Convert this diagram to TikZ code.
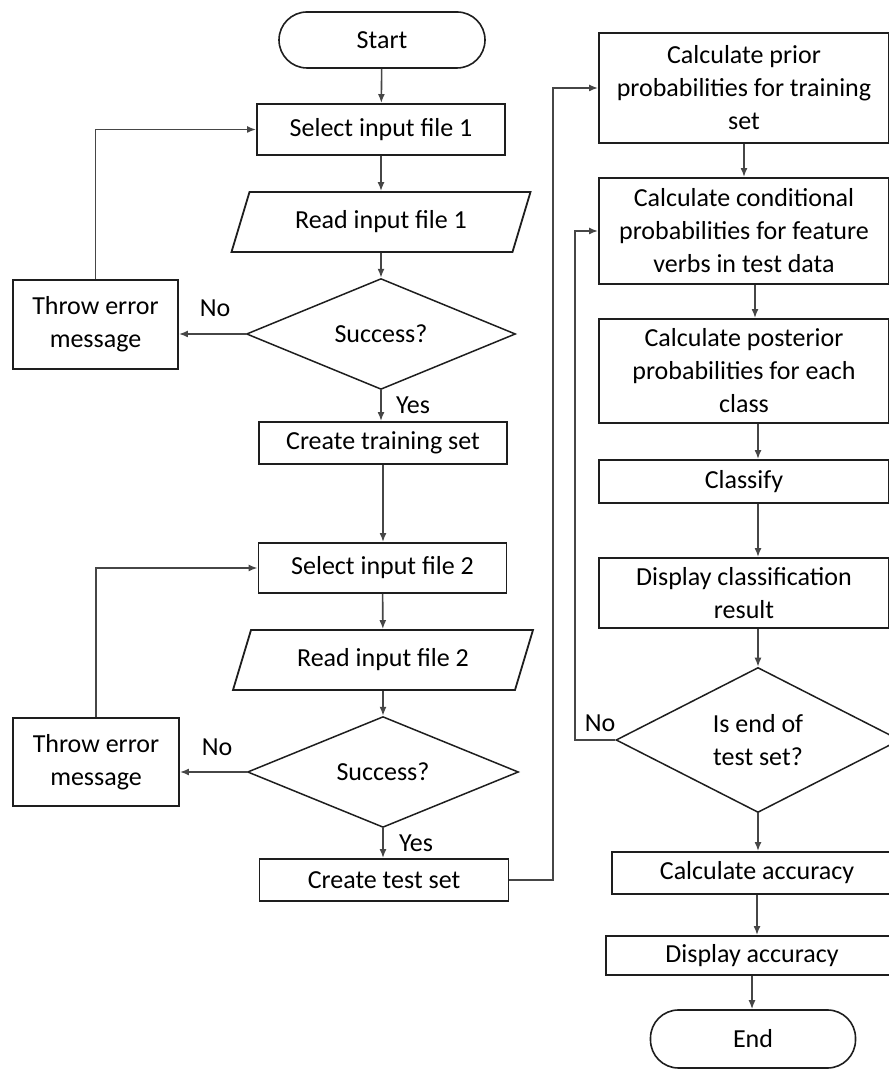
\documentclass[tikz,border=0pt]{standalone}
\usepackage{fontspec}
\setmainfont{Carlito}
\usetikzlibrary{arrows.meta,shapes.geometric}
\definecolor{fc_line}{RGB}{30,30,30}
\definecolor{fc_link}{RGB}{70,70,70}
\tikzstyle{proc}=[rectangle,draw=fc_line,line width=1.9pt,inner sep=3pt,align=center]
\tikzstyle{term}=[rectangle,rounded corners=28pt,draw=fc_line,line width=1.6pt,
  inner sep=3pt]
\tikzstyle{io}=[trapezium,trapezium left angle=51,trapezium right angle=129,
  trapezium stretches body,draw=fc_line,line width=1.8pt,inner sep=0pt]
\tikzstyle{dec}=[diamond,draw=fc_line,line width=1.5pt,inner sep=0pt,align=center]
\tikzstyle{arr}=[draw=fc_link,line width=1.6pt,-{Latex[length=9pt,width=7pt]}]
\tikzstyle{none}=[inner sep=0pt]

\begin{document}
\begin{tikzpicture}[x=1pt,y=1pt,font=\fontsize{26}{33}\selectfont]
            \useasboundingbox (0,0) rectangle (888,1075);
            % left column
            \node [style=term, minimum width=206pt, minimum height=56pt] (start) at (382, 1035) {Start};
            \node [style=proc, minimum width=248pt, minimum height=51pt] (sel1) at (381, 945.5) {Select input file 1};
            \node [style=io, minimum width=299pt, minimum height=60pt] (read1) at (381, 853) {Read input file 1};
            \node [style=dec, minimum width=269pt, minimum height=94pt] (dec1) at (381, 741) {Success?};
            \node [style=proc, minimum width=165pt, minimum height=89pt] (err1) at (95.5, 750.5) {Throw error\\message};
            \node [style=proc, minimum width=248pt, minimum height=42pt] (train) at (383, 632) {Create training set};
            \node [style=proc, minimum width=248pt, minimum height=50pt] (sel2) at (382.5, 507) {Select input file 2};
            \node [style=io, minimum width=300pt, minimum height=60pt] (read2) at (383, 415) {Read input file 2};
            \node [style=dec, minimum width=271pt, minimum height=93pt] (dec2) at (383, 303) {Success?};
            \node [style=proc, minimum width=166pt, minimum height=88pt] (err2) at (96, 313) {Throw error\\message};
            \node [style=proc, minimum width=249pt, minimum height=42pt] (test) at (384, 195) {Create test set};
            \node [style=none] (no1) at (215, 767) {No};
            \node [style=none] (yes1) at (413, 670) {Yes};
            \node [style=none] (no2) at (217, 328) {No};
            \node [style=none] (yes2) at (416, 232) {Yes};
            \coordinate (turn) at (553, 195);
            % right column
            \node [style=proc, minimum width=290pt, minimum height=110pt] (prior) at (744, 987) {Calculate prior\\probabilities for training\\set};
            \node [style=proc, minimum width=290pt, minimum height=106pt] (cond) at (744, 844) {Calculate conditional\\probabilities for feature\\verbs in test data};
            \node [style=proc, minimum width=290pt, minimum height=104pt] (post) at (744, 704) {Calculate posterior\\probabilities for each\\class};
            \node [style=proc, minimum width=290pt, minimum height=43pt] (classify) at (744, 593.5) {Classify};
            \node [style=proc, minimum width=290pt, minimum height=70pt] (dispres) at (744, 482) {Display classification\\result};
            \node [style=dec, minimum width=284pt, minimum height=145pt] (dec3) at (758, 335) {Is end of\\test set?};
            \node [style=proc, minimum width=290pt, minimum height=42pt] (acc) at (757, 202) {Calculate accuracy};
            \node [style=proc, minimum width=292pt, minimum height=39pt] (dispacc) at (752, 119.5) {Display accuracy};
            \node [style=term, minimum width=205pt, minimum height=58pt] (finish) at (753, 36) {End};
            \node [style=none] (no3) at (600, 352) {No};
            \coordinate (back) at (575, 335);
            % connectors
            \draw [style=arr] (start) to (sel1);
            \draw [style=arr] (sel1) to (read1);
            \draw [style=arr] (read1) to (dec1);
            \draw [style=arr] (dec1.west) to (err1.east |- dec1.west);
            \draw [style=arr] (err1.north) |- (sel1.west);
            \draw [style=arr] (dec1.south) to (dec1.south |- train.north);
            \draw [style=arr] (train.south) to (train.south |- sel2.north);
            \draw [style=arr] (sel2) to (read2);
            \draw [style=arr] (read2.south) to (read2.south |- dec2.north);
            \draw [style=arr] (dec2.west) to (err2.east |- dec2.west);
            \draw [style=arr] (err2.north) |- (sel2.west);
            \draw [style=arr] (dec2.south) to (dec2.south |- test.north);
            \draw [style=arr] (test.east) -- (turn) |- (prior.west);
            \draw [style=arr] (prior) to (cond);
            \draw [style=arr] (cond.south -| 755, 0) to (post.north -| 755, 0);
            \draw [style=arr] (post.south -| dec3) to (classify.north -| dec3);
            \draw [style=arr] (classify.south -| dec3) to (dispres.north -| dec3);
            \draw [style=arr] (dispres.south -| dec3) to (dec3.north);
            \draw [style=arr] (dec3.west) -- (back) |- (cond.west);
            \draw [style=arr] (dec3.south) to (dec3.south |- acc.north);
            \draw [style=arr] (acc.south) to (acc.south |- dispacc.north);
            \draw [style=arr] (dispacc.south) to (dispacc.south |- finish.north);
    \end{tikzpicture}
\end{document}
